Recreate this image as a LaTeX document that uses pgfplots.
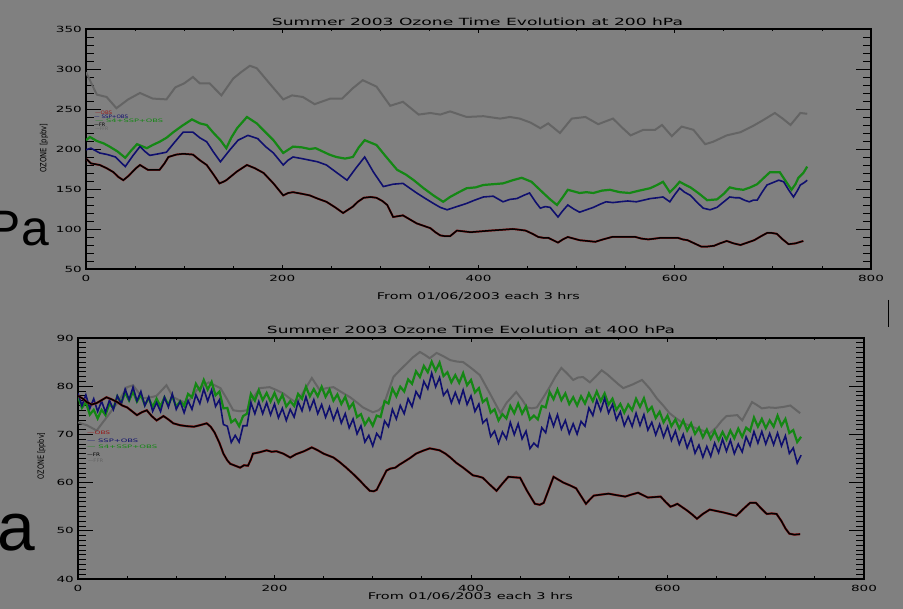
\documentclass[border=0pt]{standalone}
\usepackage{graphicx}
\usepackage{fontspec}
\setmainfont{DejaVu Sans}
\newfontfamily\pafont{Liberation Sans}
\usepackage{pgfplots}
\pgfplotsset{compat=1.18}
\usepackage{pgfplotstable}
\definecolor{bg}{RGB}{128,128,128}
\definecolor{cgray}{RGB}{100,100,100}
\definecolor{cgreen}{RGB}{20,135,20}
\definecolor{cblue}{RGB}{15,15,110}
\definecolor{cred}{RGB}{150,25,25}

\pgfplotstableread{
x y
0 188
5 182
14 180
21 176
28 171
33 165
38 161
43 166
47 171
51 176
55 180
59 177
63 174
69 174
75 174
80 182
84 190
92 193
99 194
109 193
116 186
123 180
130 168
136 157
140 159
143 161
154 172
164 180
172 176
181 170
191 157
201 142
206 145
211 146
220 144
228 142
236 138
245 134
254 127
262 120
267 124
272 128
277 134
283 139
290 140
296 139
302 135
307 130
313 115
318 116
323 117
330 112
337 107
344 104
351 101
356 96
361 92
366 91
371 91
375 95
378 98
385 97
392 96
402 97
412 98
424 99
435 100
442 99
448 98
455 94
461 90
466 89
471 89
476 86
481 83
486 87
491 90
497 88
503 86
511 85
519 84
527 87
536 90
548 90
560 90
566 88
573 87
580 88
586 89
595 89
603 89
608 87
613 86
620 82
627 78
633 78
640 79
646 82
653 85
660 82
667 80
674 83
681 86
688 91
694 95
699 95
704 94
710 87
716 81
723 82
731 85
}\blacktop

\pgfplotstableread{
x y
0 78
5 77.4
9 76.7
14 76.2
19 76.5
24 77.1
29 77.7
34 77.3
40 76.7
45 76.0
50 75.6
55 74.8
60 74.0
65 74.6
70 75.0
75 73.8
80 72.9
87 73.8
92 73.1
97 72.3
104 71.9
111 71.7
118 71.6
124 71.9
131 72.3
135 71.6
139 70.4
144 68.2
148 66.0
152 64.6
155 63.9
160 63.5
165 63.1
169 63.6
173 63.5
176 64.8
178 66.0
185 66.3
192 66.7
197 66.4
202 66.5
209 66.0
216 65.2
222 65.9
230 66.5
238 67.3
244 66.7
250 66.0
255 65.6
260 65.2
266 64.3
273 63.1
280 61.8
287 60.4
292 59.3
297 58.3
301 58.2
304 58.5
309 60.5
314 62.5
318 62.9
323 63.1
327 63.7
331 64.2
338 65.1
344 66.0
351 66.6
358 67.1
363 66.9
368 66.7
374 66.0
379 65.2
385 64.1
392 63.1
397 62.3
402 61.5
407 61.3
412 61.0
419 59.6
426 58.3
432 59.8
438 61.2
444 61.1
450 61.0
457 58.3
465 55.6
470 55.4
474 55.8
479 58.5
484 61.2
489 60.6
494 60.0
501 59.4
507 58.8
512 57.2
517 55.6
521 56.5
525 57.3
532 57.5
540 57.7
548 57.4
557 57.1
563 57.5
570 57.9
575 57.4
580 56.9
587 57.0
593 57.1
598 56.0
603 55.0
607 55.3
610 55.6
615 54.9
620 54.2
625 53.4
630 52.5
636 53.5
643 54.4
650 54.1
657 53.8
663 53.5
670 53.1
677 54.5
684 55.8
690 55.8
695 54.7
701 53.5
706 53.6
711 53.5
716 52.0
720 50.5
724 49.4
729 49.2
735 49.3
}\blackbot

\pgfplotsset{idlbase/.style={
  scale only axis,
  axis line style={line width=1.2bp},
  tick style={black, line width=0.8bp},
  tick align=inside,
  xticklabel={\scalebox{1.6}[1]{\pgfmathprintnumber{\tick}}},
  yticklabel={\scalebox{1.6}[1]{\pgfmathprintnumber{\tick}}},
  ticklabel style={font=\fontsize{8.5}{9}\selectfont, inner sep=0pt},
  xticklabel style={yshift=-6bp},
  yticklabel style={xshift=-4bp},
  /pgf/number format/assume math mode=true,
  xmin=0, xmax=800,
  clip=true,
},
idly/.style={idlbase, xtick=\empty, major tick length=15bp, minor tick length=8bp},
idlx/.style={idlbase, ytick=\empty, xtick={0,200,400,600,800}, minor x tick num=3,
  major tick length=4bp, minor tick length=2.5bp},
}

\begin{document}
\begin{tikzpicture}[x=1bp,y=1bp]
\path[use as bounding box, fill=bg] (0,0) rectangle (903,609);

% slide fragments
\node[anchor=base east, inner sep=0, font=\pafont\fontsize{50}{50}\selectfont] at (49,363) {Pa};
\node[anchor=base east, inner sep=0, font=\pafont\fontsize{68}{68}\selectfont] at (35,58) {Pa};
\draw[black, line width=0.8bp] (888,309) -- (888,282);

% ---------------- top panel ----------------
\begin{axis}[idlx, at={(86bp,340bp)}, anchor=south west, width=785bp, height=240bp,
  ymin=50, ymax=350]
\end{axis}
\begin{axis}[idly, at={(86bp,340bp)}, anchor=south west, width=785bp, height=240bp,
  ymin=50, ymax=350, ytick={50,100,...,350}, minor y tick num=4]
\addplot[cgray, line width=2bp] coordinates {
(0,296)(11,268)(21,265)(31,251)(43,262)(55,270)(68,263)(82,262)(91,277)(100,282)
(109,290)(116,282)(126,282)(138,267)(150,288)(158,296)(167,304)(174,301)(187,282)(201,262)
(210,267)(221,265)(233,256)(249,263)(261,263)(272,276)(282,286)(296,278)(310,254)(323,259)
(339,243)(351,245)(361,243)(371,247)(388,240)(405,241)(422,238)(432,240)(442,238)(453,233)
(463,226)(471,232)(483,220)(495,238)(509,240)(522,231)(537,238)(547,226)(555,217)(568,224)
(580,224)(587,230)(597,216)(607,228)(619,224)(631,206)(639,209)(653,217)(667,221)(680,229)
(690,236)(702,245)(710,238)(718,230)(728,245)(735,244)};
\addplot[cgreen, line width=2.2bp] coordinates {
(0,211)(4,215)(11,210)(18,207)(24,203)(32,197)(40,189)(46,198)(52,206)(62,201)
(68,205)(75,209)(82,214)(89,221)(98,229)(108,237)(116,232)(123,230)(130,220)(137,211)
(143,201)(148,214)(154,226)(164,240)(174,232)(182,222)(191,211)(201,195)(211,203)(220,202)
(228,200)(234,201)(241,197)(248,193)(255,190)(264,188)(272,190)(278,202)(284,211)(290,208)
(296,205)(306,190)(317,174)(326,168)(334,161)(344,151)(354,142)(364,134)(371,140)(380,146)
(388,151)(397,152)(405,155)(415,156)(425,157)(435,161)(444,164)(454,159)(460,152)(466,145)
(473,137)(480,130)(486,140)(491,149)(497,147)(503,145)(510,146)(517,145)(526,148)(534,149)
(544,146)(554,145)(564,148)(575,151)(582,155)(588,159)(595,146)(600,152)(605,159)(611,155)
(616,152)(625,144)(633,136)(643,137)(650,144)(656,152)(663,150)(670,149)(677,152)(684,156)
(690,163)(697,171)(707,171)(713,160)(719,149)(723,156)(726,164)(731,170)(735,178)};
\addplot[cblue, line width=1.6bp] coordinates {
(0,199)(5,201)(14,195)(22,193)(30,190)(35,184)(40,178)(48,192)(55,203)(60,197)
(65,192)(74,194)(82,196)(90,208)(99,221)(109,221)(116,214)(123,209)(130,196)(137,184)
(146,198)(155,211)(165,217)(175,213)(183,203)(191,195)(201,180)(206,186)(211,190)(220,188)
(228,186)(236,184)(245,180)(256,170)(266,161)(275,176)(284,190)(293,171)(303,153)(313,156)
(323,157)(330,151)(337,145)(346,138)(354,132)(361,127)(368,124)(378,128)(388,132)(396,136)
(405,140)(415,141)(425,134)(432,137)(439,138)(446,142)(452,145)(458,134)(463,126)(468,128)
(473,127)(477,121)(481,115)(486,123)(491,130)(497,125)(503,121)(510,124)(517,127)(524,131)
(530,134)(537,133)(544,134)(552,135)(561,134)(568,136)(575,138)(582,139)(588,140)(595,134)
(600,143)(605,151)(610,146)(616,142)(623,133)(629,126)(636,124)(643,127)(650,134)(656,140)
(662,139)(666,139)(671,136)(676,134)(680,136)(684,136)(689,146)(694,155)(700,158)(706,161)
(711,159)(716,149)(721,140)(725,148)(728,155)(732,158)(735,161)};
\addplot[cred, line width=2bp] table {\blacktop};
\addplot[black, line width=1.5bp] table {\blacktop};
\end{axis}

% ---------------- bottom panel ----------------
\begin{axis}[idlx, at={(78bp,30bp)}, anchor=south west, width=786bp, height=241bp,
  ymin=40, ymax=90]
\end{axis}
\begin{axis}[idly, at={(78bp,30bp)}, anchor=south west, width=786bp, height=241bp,
  ymin=40, ymax=90, ytick={40,50,...,90}, minor y tick num=9]
\addplot[cgray, line width=2bp] coordinates {
(0,72.5)(9,71.9)(19,70.8)(29,73.5)(40,76.5)(50,79.8)(56,80.2)(66,77.5)(74,77.7)(80,78.0)
(90,80.2)(97,77.7)(104,77.0)(111,76.5)(121,79.2)(133,80.8)(145,79.6)(152,77.2)(158,75.0)(165,74.8)
(172,75.0)(178,77.5)(185,79.6)(195,79.8)(202,79.2)(209,78.5)(216,77.4)(223,76.5)(230,79.0)(238,81.7)
(246,79.2)(253,79.6)(260,79.8)(268,78.8)(277,77.7)(284,76.6)(290,75.6)(300,74.6)(306,75.0)(311,76.0)
(316,79.0)(321,81.9)(328,83.4)(335,84.8)(341,86.0)(348,87.1)(353,86.5)(358,85.8)(365,86.9)(372,86.2)
(379,85.4)(386,85.1)(392,85.0)(400,83.8)(409,82.3)(420,78.2)(430,74.4)(436,76.5)(446,78.8)(452,77.2)
(457,75.6)(462,75.4)(467,75.6)(474,77.8)(480,79.8)(486,82.0)(492,83.8)(498,82.6)(504,81.3)(509,81.8)
(514,81.9)(521,80.8)(527,82.0)(533,83.3)(539,82.4)(545,81.3)(550,80.4)(555,79.6)(565,80.4)(574,81.3)
(582,79.5)(589,77.5)(596,75.9)(602,74.4)(609,73.3)(616,72.3)(623,71.8)(630,71.2)(637,70.7)(643,70.2)
(650,71.5)(655,72.8)(660,73.8)(666,73.9)(671,74.0)(676,72.9)(681,74.8)(686,76.7)(691,76.1)(696,75.4)
(703,75.6)(710,75.5)(718,75.7)(725,76.0)(730,75.2)(735,74.4)};
\addplot[cgreen, line width=2.2bp] coordinates {
(0,77.9)(4,75.5)(8,76.7)(12,74.1)(16,75.1)(20,73.3)(24,75.1)(28,74.0)(32,76.4)(36,75.4)
(40,77.9)(44,76.5)(48,78.7)(52,77.0)(56,78.9)(60,76.8)(64,78.2)(68,76.1)(72,77.5)(76,75.7)
(80,77.4)(84,75.8)(88,77.7)(92,76.1)(96,78.0)(100,75.7)(104,76.9)(108,75.9)(112,78.4)(116,77.7)
(120,80.5)(124,79.1)(128,81.3)(132,79.3)(136,80.9)(140,78.1)(144,78.9)(148,75.4)(152,75.5)(156,72.5)
(160,73.1)(164,71.7)(168,73.8)(172,74.3)(176,78.4)(180,77.0)(184,79.2)(188,77.1)(192,78.6)(196,76.8)
(200,78.6)(204,76.6)(208,78.2)(212,75.8)(216,76.9)(220,75.9)(224,78.4)(228,77.4)(232,79.9)(236,77.9)
(240,79.4)(244,77.9)(248,79.9)(252,77.8)(256,79.3)(260,77.0)(264,78.3)(268,76.3)(272,77.8)(276,75.4)
(280,76.5)(284,73.6)(288,74.2)(292,72.0)(296,73.3)(300,71.8)(304,73.9)(308,73.6)(312,76.9)(316,76.4)
(320,79.5)(324,77.9)(328,79.9)(332,78.9)(336,81.4)(340,80.5)(344,83.1)(348,81.9)(352,84.2)(356,82.9)
(360,85.1)(364,83.2)(368,84.9)(372,82.1)(376,82.9)(380,80.8)(384,82.3)(388,80.7)(392,82.7)(396,80.2)
(400,81.3)(404,78.7)(408,79.6)(412,76.7)(416,77.4)(420,74.5)(424,75.2)(428,72.9)(432,74.2)(436,73.3)
(440,75.9)(444,74.4)(448,76.4)(452,74.3)(456,75.8)(460,73.1)(464,73.9)(468,73.1)(472,75.9)(476,75.6)
(480,78.8)(484,77.3)(488,79.3)(492,77.1)(496,78.5)(500,76.3)(504,77.7)(508,76.0)(512,77.9)(516,76.4)
(520,78.5)(524,76.9)(528,78.9)(532,76.9)(536,78.5)(540,76.2)(544,77.4)(548,75.1)(552,76.3)(556,74.5)
(560,76.2)(564,75.0)(568,77.4)(572,75.7)(576,77.5)(580,74.8)(584,75.7)(588,73.4)(592,74.7)(596,72.5)
(600,73.9)(604,71.7)(608,73.1)(612,71.2)(616,72.9)(620,70.8)(624,72.3)(628,70.1)(632,71.4)(636,69.4)
(640,71.0)(644,69.1)(648,70.7)(652,68.8)(656,70.5)(660,68.9)(664,70.8)(668,69.2)(672,71.2)(676,69.5)
(680,71.4)(684,70.7)(688,73.5)(692,71.6)(696,73.2)(700,71.3)(704,72.9)(708,71.6)(712,73.9)(716,71.8)
(720,73.2)(724,70.3)(728,70.9)(732,68.4)(736,69.5)};
\addplot[cblue, line width=1.6bp] coordinates {
(0,78.5)(4,75.95)(8,78.2)(12,75.4)(16,77.4)(20,74.75)(24,76.9)(28,74.6)(32,77.1)(36,75.15)
(40,78.0)(44,76.3)(48,79.4)(52,77.2)(56,79.8)(60,76.95)(64,78.9)(68,75.95)(72,77.8)(76,74.8)
(80,76.6)(84,74.75)(88,77.7)(92,75.65)(96,78.4)(100,75.2)(104,76.8)(108,74.5)(112,77.0)(116,75.2)
(120,78.2)(124,76.4)(128,79.4)(132,76.9)(136,79.2)(140,75.8)(144,77.2)(148,72.05)(152,71.7)(156,68.35)
(160,69.8)(164,68.4)(168,71.8)(172,71.8)(176,76.6)(180,74.3)(184,76.8)(188,74.3)(192,76.6)(196,74.05)
(200,76.3)(204,73.45)(208,75.4)(212,72.9)(216,75.2)(220,73.6)(224,76.8)(228,74.9)(232,77.8)(236,75.1)
(240,77.2)(244,74.3)(248,76.2)(252,73.55)(256,75.7)(260,73.05)(264,75.2)(268,72.35)(272,74.3)(276,71.35)
(280,73.2)(284,70.1)(288,71.8)(292,68.4)(296,69.8)(300,67.6)(304,70.2)(308,69.1)(312,72.8)(316,71.6)
(320,75.2)(324,73.2)(328,76.0)(332,74.3)(336,77.4)(340,75.75)(344,78.9)(348,77.55)(352,81.0)(356,79.45)
(360,82.7)(364,79.85)(368,81.8)(372,78.1)(376,79.2)(380,76.55)(384,78.7)(388,76.55)(392,79.2)(396,76.2)
(400,78.0)(404,74.75)(408,76.3)(412,72.35)(416,73.2)(420,69.55)(424,70.7)(428,68.2)(432,70.5)(436,69.1)
(440,72.5)(444,69.95)(448,72.2)(452,69.05)(456,70.7)(460,67.05)(464,68.2)(468,67.4)(472,71.4)(476,70.35)
(480,74.1)(484,71.7)(488,74.1)(492,71.1)(496,72.9)(500,70.15)(504,72.2)(508,70.05)(512,72.7)(516,71.7)
(520,75.5)(524,73.9)(528,77.1)(532,74.9)(536,77.5)(540,74.45)(544,76.2)(548,73.05)(552,74.7)(556,71.8)
(560,73.7)(564,71.65)(568,74.4)(572,71.85)(576,74.1)(580,70.9)(584,72.5)(588,69.9)(592,72.1)(596,69.45)
(600,71.6)(604,68.75)(608,70.7)(612,67.95)(616,70.0)(620,67.2)(624,69.2)(628,66.1)(632,67.8)(636,65.25)
(640,67.5)(644,65.45)(648,68.2)(652,66.2)(656,69.0)(660,66.5)(664,68.8)(668,66.0)(672,68.0)(676,66.35)
(680,69.5)(684,67.65)(688,70.6)(692,68.2)(696,70.6)(700,68.0)(704,70.2)(708,67.85)(712,70.3)(716,67.6)
(720,69.7)(724,66.05)(728,67.2)(732,64.05)(736,65.7)};
\addplot[cred, line width=2.2bp] table {\blackbot};
\addplot[black, line width=1.5bp] table {\blackbot};
\end{axis}

% titles and labels
\node[anchor=base, inner sep=0] at (477.5,583) {\resizebox{411bp}{7.5bp}{Summer 2003 Ozone Time Evolution at 200 hPa}};
\node[anchor=base, inner sep=0] at (478.5,309) {\resizebox{203bp}{7bp}{From 01/06/2003 each 3 hrs}};
\node[rotate=90, inner sep=0] at (44,461) {\resizebox{49bp}{6.5bp}{OZONE [ppbv]}};
\node[anchor=base, inner sep=0] at (471,275) {\resizebox{408bp}{7.5bp}{Summer 2003 Ozone Time Evolution at 400 hPa}};
\node[anchor=base, inner sep=0] at (470.5,9) {\resizebox{205bp}{7bp}{From 01/06/2003 each 3 hrs}};
\node[rotate=90, inner sep=0] at (41.5,153) {\resizebox{47bp}{6.5bp}{OZONE [ppbv]}};

% legends
\node[anchor=base west, inner sep=0, text=cred] at (95,494) {\resizebox{17bp}{3.5bp}{—OBS}};
\node[anchor=base west, inner sep=0, text=cblue] at (94,490) {\resizebox{34bp}{3.5bp}{— SSP+OBS}};
\node[anchor=base west, inner sep=0, text=cgreen] at (95,486) {\resizebox{68bp}{3.5bp}{— S4+SSP+OBS}};
\node[anchor=base west, inner sep=0, text=black] at (94,482) {\resizebox{11bp}{3.5bp}{—FR}};
\node[anchor=base west, inner sep=0, text=cgray] at (95,478) {\resizebox{13bp}{3.5bp}{—FFR}};

\node[anchor=base west, inner sep=0, text=cred] at (87,174) {\resizebox{23bp}{3.5bp}{—OBS}};
\node[anchor=base west, inner sep=0, text=cblue] at (87,166) {\resizebox{51bp}{3.5bp}{— SSP+OBS}};
\node[anchor=base west, inner sep=0, text=cgreen] at (87,160) {\resizebox{70bp}{3.5bp}{— S4+SSP+OBS}};
\node[anchor=base west, inner sep=0, text=black] at (87,152) {\resizebox{13bp}{3.5bp}{—FR}};
\node[anchor=base west, inner sep=0, text=cgray] at (88,146) {\resizebox{15bp}{3.5bp}{—FFR}};
\end{tikzpicture}
\end{document}
